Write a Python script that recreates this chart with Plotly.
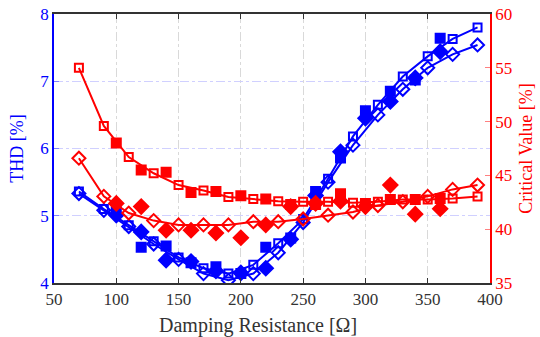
import plotly.graph_objects as go

# Damping resistance values (Ohm)
x_open = [70, 90, 110, 130, 150, 170, 190, 210, 230, 250, 270, 290, 310, 330, 350, 370, 390]
x_filled = [100, 120, 140, 160, 180, 200, 220, 240, 260, 280, 300, 320, 340, 360]

# THD [%] (left axis)
thd_open_sq = [5.36, 5.10, 4.86, 4.62, 4.38, 4.22, 4.14, 4.27, 4.59, 4.95, 5.55, 6.18, 6.65, 7.07, 7.37, 7.63, 7.80]
thd_open_di = [5.33, 5.08, 4.84, 4.58, 4.35, 4.14, 4.04, 4.14, 4.45, 4.90, 5.50, 6.05, 6.50, 6.88, 7.20, 7.40, 7.54]
thd_fill_sq = [5.06, 4.53, 4.55, 4.30, 4.24, 4.14, 4.53, 4.67, 5.36, 5.86, 6.56, 6.85, 7.02, 7.64]
thd_fill_di = [5.01, 4.76, 4.34, 4.32, 4.18, 4.15, 4.22, 4.65, 5.30, 5.95, 6.45, 6.70, 7.05, 7.44]

# Critical value [%] (right axis)
cv_open_sq = [55.0, 49.6, 46.7, 45.2, 44.1, 43.6, 43.0, 42.8, 42.6, 42.55, 42.55, 42.45, 42.55, 42.75, 42.75, 42.85, 43.05]
cv_open_di = [46.6, 43.05, 41.5, 40.8, 40.4, 40.4, 40.4, 40.7, 40.7, 40.95, 41.3, 41.6, 42.2, 42.55, 43.05, 43.7, 44.1]
cv_fill_sq = [48.0, 45.5, 45.3, 43.4, 43.5, 43.1, 42.8, 42.3, 42.3, 43.3, 42.4, 42.75, 42.75, 42.85]
cv_fill_di = [42.4, 42.1, 39.9, 39.9, 39.65, 39.2, 40.4, 42.1, 42.4, 42.6, 42.1, 44.1, 41.4, 41.9]

BLUE = "#0000ff"
RED = "#ff0000"
FONT = "Liberation Serif, DejaVu Serif, Times New Roman, serif"

fig = go.Figure()

def add(x, y, color, symbol, mode, yaxis, size):
    fig.add_trace(go.Scatter(
        x=x, y=y, mode=mode, yaxis=yaxis, showlegend=False,
        line=dict(color=color, width=2),
        marker=dict(symbol=symbol, size=size, color=color,
                    line=dict(color=color, width=2)),
    ))

add(x_open, cv_open_sq, RED, "square-open", "lines+markers", "y2", 8)
add(x_open, cv_open_di, RED, "diamond-open", "lines+markers", "y2", 10)
add(x_filled, cv_fill_sq, RED, "square", "markers", "y2", 9)
add(x_filled, cv_fill_di, RED, "diamond", "markers", "y2", 11)
add(x_open, thd_open_sq, BLUE, "square-open", "lines+markers", "y", 8)
add(x_open, thd_open_di, BLUE, "diamond-open", "lines+markers", "y", 10)
add(x_filled, thd_fill_sq, BLUE, "square", "markers", "y", 9)
add(x_filled, thd_fill_di, BLUE, "diamond", "markers", "y", 11)

fig.update_layout(
    width=540, height=337,
    margin=dict(l=54, r=50, t=14, b=54, autoexpand=False),
    paper_bgcolor="white", plot_bgcolor="white",
    font=dict(family=FONT, size=17, color="#333333"),
    xaxis=dict(
        range=[50, 400], dtick=50, tick0=50,
        showgrid=True, gridcolor="#d9d9d9", griddash="dashdot", gridwidth=1,
        ticks="inside", ticklen=5, tickcolor="#333333",
        showline=True, linecolor="#333333", linewidth=1.5, mirror="ticks",
        zeroline=False, automargin=False, ticklabeloverflow="allow",
        tickfont=dict(family=FONT, size=17, color="#333333"),
    ),
    yaxis=dict(
        range=[4, 8], dtick=1, tick0=4,
        showgrid=True, gridcolor="#d0d0ff", griddash="dashdot", gridwidth=1,
        ticks="inside", ticklen=5, tickcolor="#8080ff",
        showline=True, linecolor=BLUE, linewidth=1.5,
        zeroline=False, automargin=False, ticklabeloverflow="allow",
        title=dict(text="THD [%]", font=dict(family=FONT, size=18, color=BLUE), standoff=12),
        tickfont=dict(family=FONT, size=17, color=BLUE),
    ),
    yaxis2=dict(
        range=[35, 60], dtick=5, tick0=35,
        overlaying="y", side="right", showgrid=False,
        ticks="inside", ticklen=5, tickcolor="#ff8080",
        showline=True, linecolor=RED, linewidth=1.5,
        zeroline=False, automargin=False, ticklabeloverflow="allow",
        title=dict(text="Critical Value [%]", font=dict(family=FONT, size=18, color=RED), standoff=8),
        tickfont=dict(family=FONT, size=17, color=RED),
    ),
    annotations=[dict(
        text="Damping Resistance [Ω]", xref="paper", yref="paper",
        x=0.468, y=0, yshift=-42, xanchor="center", yanchor="middle",
        showarrow=False, font=dict(family=FONT, size=20, color="#333333"),
    )],
)

fig.write_html(
    "out.html",
    config={"displayModeBar": False},
    post_script="document.body.style.margin='0';document.body.style.overflow='hidden';",
)
